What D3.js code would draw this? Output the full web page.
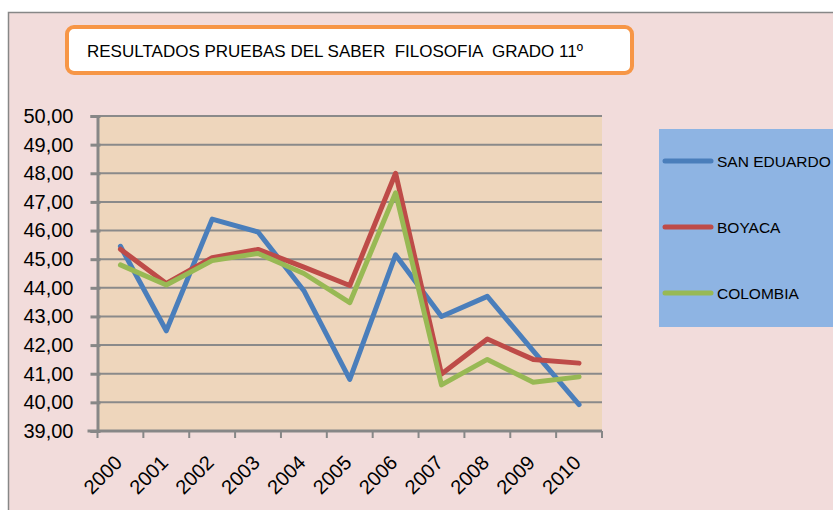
<!DOCTYPE html>
<html>
<head>
<meta charset="utf-8">
<script src="https://cdn.jsdelivr.net/npm/d3@7"></script>
<style>
    body { margin: 0; background: #ffffff; }
    svg { display: block; }
</style>
</head>
<body>
<div id="chart"></div>
<script>
/*jshint esversion: 6 */

// values
let years = ["2000", "2001", "2002", "2003", "2004", "2005", "2006", "2007", "2008", "2009", "2010"];
let sanEduardo = [45.45, 42.5, 46.4, 45.95, 43.9, 40.8, 45.15, 43.0, 43.7, 41.8, 39.92];
let boyaca = [45.35, 44.15, 45.05, 45.34, 44.72, 44.08, 48.0, 40.99, 42.21, 41.5, 41.37];
let colombia = [44.8, 44.1, 44.95, 45.2, 44.5, 43.48, 47.32, 40.61, 41.5, 40.7, 40.89];
let yTicks = [39, 40, 41, 42, 43, 44, 45, 46, 47, 48, 49, 50];
let seriesNames = ["SAN EDUARDO", "BOYACA", "COLOMBIA"];
let seriesColors = ["#4a7ebb", "#be4b48", "#98b954"];
let title = "RESULTADOS PRUEBAS DEL SABER  FILOSOFIA  GRADO 11º";

(function (window) {

    let width = 833,
        height = 510;

    let plot = { left: 97.5, right: 602, top: 116, bottom: 431 };

    let svg = d3.select("#chart").append("svg")
        .attr("width", width)
        .attr("height", height);

    svg.append("rect")
        .attr("width", width)
        .attr("height", height)
        .attr("fill", "#ffffff");

    // chart area
    svg.append("rect")
        .attr("x", 8.5)
        .attr("y", 12.5)
        .attr("width", width)
        .attr("height", height)
        .attr("fill", "#f2dcdb")
        .attr("stroke", "#878787")
        .attr("stroke-width", 1.5);

    // title box
    svg.append("rect")
        .attr("x", 67)
        .attr("y", 27)
        .attr("width", 565)
        .attr("height", 46)
        .attr("rx", 7)
        .attr("fill", "#ffffff")
        .attr("stroke", "#f79646")
        .attr("stroke-width", 4);

    svg.append("text")
        .attr("x", 87)
        .attr("y", 57)
        .style("font", "17px 'Liberation Sans', Arial, sans-serif")
        .style("white-space", "pre")
        .attr("fill", "#000")
        .text(title);

    let x = d3.scaleBand()
        .domain(years)
        .range([plot.left, plot.right]);

    let y = d3.scaleLinear()
        .domain([39, 50])
        .range([plot.bottom, plot.top]);

    svg.append("rect")
        .attr("x", plot.left)
        .attr("y", plot.top)
        .attr("width", plot.right - plot.left)
        .attr("height", plot.bottom - plot.top)
        .attr("fill", "#eed6bc");

    // gridlines
    svg.append("g")
        .selectAll("line")
        .data(yTicks.slice(1))
        .enter().append("line")
        .attr("x1", plot.left)
        .attr("x2", plot.right)
        .attr("y1", function (d) { return y(d); })
        .attr("y2", function (d) { return y(d); })
        .attr("stroke", "#8a8a8a")
        .attr("stroke-width", 2);

    // y axis
    let yAxis = svg.append("g")
        .attr("transform", "translate(" + plot.left + ",0)")
        .call(d3.axisLeft(y)
            .tickValues(yTicks)
            .tickSize(7)
            .tickPadding(17)
            .tickFormat(function (d) { return d.toFixed(2).replace(".", ","); }));

    yAxis.select(".domain")
        .attr("stroke", "#878787")
        .attr("stroke-width", 3);
    yAxis.selectAll(".tick line")
        .attr("x2", -7)
        .attr("x1", 3)
        .attr("stroke", "#878787")
        .attr("stroke-width", 3);
    yAxis.selectAll(".tick text")
        .attr("fill", "#000")
        .style("font", "20px 'Liberation Sans', Arial, sans-serif");

    // x axis, ticks between categories
    let xAxis = svg.append("g")
        .attr("transform", "translate(0," + plot.bottom + ")");

    xAxis.append("line")
        .attr("x1", plot.left - 10)
        .attr("x2", plot.right)
        .attr("stroke", "#878787")
        .attr("stroke-width", 3);

    xAxis.selectAll(".xtick")
        .data(years.concat(["end"]))
        .enter().append("line")
        .attr("class", "xtick")
        .attr("x1", function (d, i) { return plot.left + i * x.step(); })
        .attr("x2", function (d, i) { return plot.left + i * x.step(); })
        .attr("y1", 0)
        .attr("y2", 7)
        .attr("stroke", "#878787")
        .attr("stroke-width", 2);

    xAxis.selectAll(".xlabel")
        .data(years)
        .enter().append("text")
        .attr("class", "xlabel")
        .attr("transform", function (d) {
            return "translate(" + (x(d) + x.bandwidth() / 2 + 3) + ",33) rotate(-45)";
        })
        .attr("text-anchor", "end")
        .attr("fill", "#000")
        .style("font", "20px 'Liberation Sans', Arial, sans-serif")
        .text(function (d) { return d; });

    // lines
    let line = d3.line()
        .x(function (d, i) { return x(years[i]) + x.bandwidth() / 2; })
        .y(function (d) { return y(d); });

    svg.append("g")
        .selectAll("path")
        .data([sanEduardo, boyaca, colombia])
        .enter().append("path")
        .attr("d", line)
        .attr("fill", "none")
        .attr("stroke", function (d, i) { return seriesColors[i]; })
        .attr("stroke-width", 5)
        .attr("stroke-linejoin", "round")
        .attr("stroke-linecap", "round");

    // legend
    let legend = svg.append("g")
        .attr("transform", "translate(659,129)");

    legend.append("rect")
        .attr("width", 190)
        .attr("height", 198)
        .attr("fill", "#8eb4e3");

    let item = legend.selectAll(".legend")
        .data(seriesNames)
        .enter().append("g")
        .attr("class", "legend")
        .attr("transform", function (d, i) {
            return "translate(0," + (32 + i * 66) + ")";
        });

    item.append("line")
        .attr("x1", 6)
        .attr("x2", 52)
        .attr("stroke", function (d, i) { return seriesColors[i]; })
        .attr("stroke-width", 5)
        .attr("stroke-linecap", "round");

    item.append("text")
        .attr("x", 58)
        .attr("dy", "0.36em")
        .attr("fill", "#000")
        .style("font", "15.5px 'Liberation Sans', Arial, sans-serif")
        .text(function (d) { return d; });

})(window);
</script>
</body>
</html>
